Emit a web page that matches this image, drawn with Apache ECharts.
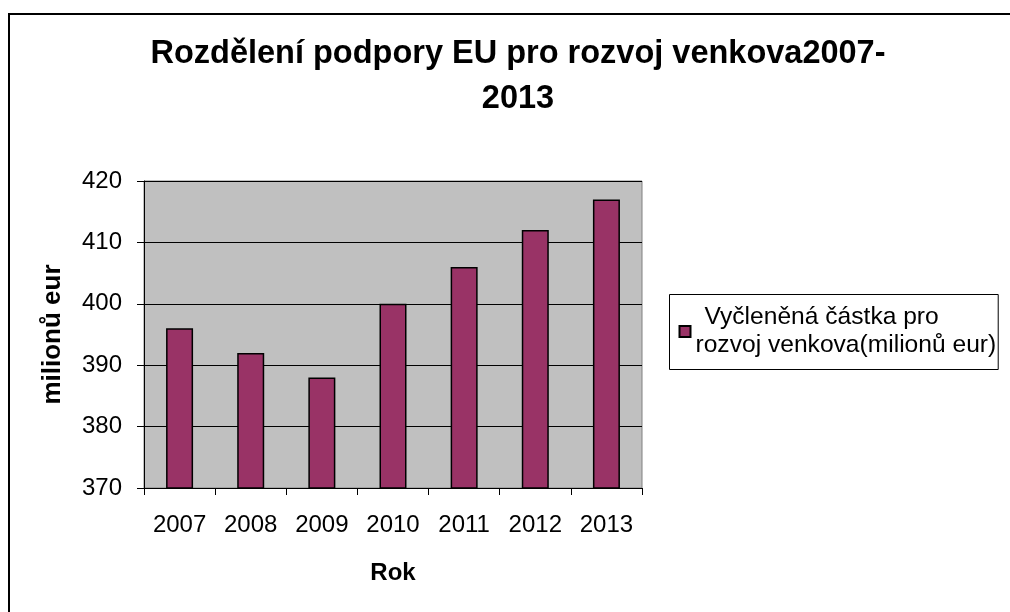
<!DOCTYPE html>
<html>
<head>
<meta charset="utf-8">
<script src="https://cdn.jsdelivr.net/npm/echarts@6/dist/echarts.min.js"></script>
<style>
html,body{margin:0;padding:0;background:#fff;}
#chartEle{width:1010px;height:612px;}
</style>
</head>
<body>
<div id="chartEle"></div>
<script>
// data
var years = ['2007', '2008', '2009', '2010', '2011', '2012', '2013'];
var amounts = [396, 392, 388, 400, 406, 412, 417];
var seriesName = 'Vyčleněná částka pro rozvoj venkova(milionů eur)';
var titleText = 'Rozdělení podpory EU pro rozvoj venkova2007-\n2013';

var fontName = '"Liberation Sans", Arial, sans-serif';
var myChart = echarts.init(document.getElementById('chartEle'));

var option = {
    backgroundColor: '#fff',
    animation: false,
    title: {
        text: titleText,
        left: 518,
        textAlign: 'center',
        top: 32,
        padding: 0,
        textStyle: {
            fontFamily: fontName,
            fontSize: 32.5,
            fontWeight: 'bold',
            color: '#000',
            lineHeight: 45
        }
    },
    legend: {
        orient: 'vertical',
        left: 669.5,
        top: 294.5,
        padding: [9, 2, 10, 9],
        borderColor: '#000',
        borderWidth: 1,
        itemWidth: 11,
        itemHeight: 11,
        icon: 'rect',
        data: [seriesName],
        formatter: function () {
            return '{a|Vyčleněná částka pro}\n{b|rozvoj venkova(milionů eur)}';
        },
        textStyle: {
            fontFamily: fontName,
            fontSize: 24.6,
            color: '#000',
            lineHeight: 28,
            rich: {
                a: {fontFamily: fontName, fontSize: 24.6, lineHeight: 28, padding: [0, 0, 0, 9]},
                b: {fontFamily: fontName, fontSize: 24.6, lineHeight: 28}
            }
        }
    },
    grid: {
        left: 144,
        right: 368,
        top: 181,
        bottom: 124,
        show: true,
        backgroundColor: '#C0C0C0',
        borderColor: '#808080',
        borderWidth: 1
    },
    xAxis: {
        type: 'category',
        data: years,
        name: 'Rok',
        nameLocation: 'middle',
        nameGap: 73,
        nameTextStyle: {fontFamily: fontName, fontSize: 24, fontWeight: 'bold', color: '#000'},
        axisLine: {lineStyle: {color: '#000', width: 1}},
        axisTick: {show: true, length: 7, lineStyle: {color: '#000'}},
        axisLabel: {fontFamily: fontName, fontSize: 24, color: '#000', margin: 25}
    },
    yAxis: {
        type: 'value',
        min: 370,
        max: 420,
        interval: 10,
        name: 'milionů eur',
        nameLocation: 'middle',
        nameRotate: 90,
        nameGap: 78,
        nameTextStyle: {fontFamily: fontName, fontSize: 26, fontWeight: 'bold', color: '#000'},
        axisLine: {show: true, lineStyle: {color: '#000', width: 1}},
        axisTick: {show: true, length: 7, lineStyle: {color: '#000'}},
        axisLabel: {fontFamily: fontName, fontSize: 24, color: '#000', margin: 22},
        splitLine: {show: true, lineStyle: {color: '#000', width: 1}}
    },
    series: [
        {
            name: seriesName,
            type: 'bar',
            data: amounts,
            barWidth: 27,
            itemStyle: {
                color: '#993366',
                borderColor: '#000',
                borderWidth: 1.5
            }
        }
    ],
    graphic: [
        {
            type: 'rect',
            silent: true,
            shape: {x: 9, y: 14, width: 1020, height: 620},
            style: {fill: null, stroke: '#000', lineWidth: 2}
        }
    ]
};

myChart.setOption(option, true);
</script>
</body>
</html>
